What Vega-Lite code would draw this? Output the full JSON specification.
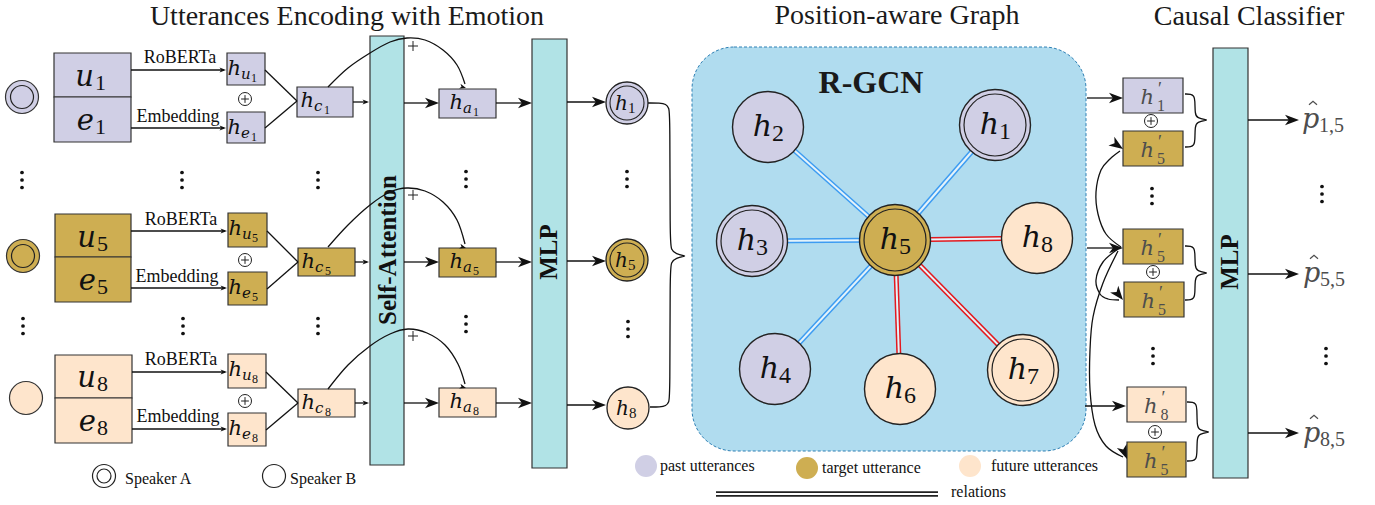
{
"$schema":"https://vega.github.io/schema/vega-lite/v6.json",
"width":1375,"height":505,"padding":0,"autosize":{"type":"none"},
"background":"#ffffff",
"config":{"view":{"stroke":null},"text":{"font":"Liberation Serif","color":"#111111"}},
"datasets":{
"rgcn":[{"x":692,"x2":1086,"y":47,"y2":451}],
"edges":[
{"x":895,"y":240,"x2":995,"y2":125,"c":"p"},
{"x":895,"y":240,"x2":768,"y2":127,"c":"p"},
{"x":895,"y":240,"x2":752,"y2":241,"c":"p"},
{"x":895,"y":240,"x2":775,"y2":369,"c":"p"},
{"x":895,"y":240,"x2":900,"y2":389,"c":"f"},
{"x":895,"y":240,"x2":1023,"y2":370,"c":"f"},
{"x":895,"y":240,"x2":1037,"y2":238,"c":"f"}],
"rects":[
{"x":54,"x2":131,"y":53,"y2":97,"g":"past"},
{"x":54,"x2":131,"y":97,"y2":142,"g":"past"},
{"x":55,"x2":131,"y":214,"y2":257,"g":"target"},
{"x":55,"x2":131,"y":257,"y2":302,"g":"target"},
{"x":55,"x2":132,"y":355,"y2":398,"g":"future"},
{"x":55,"x2":132,"y":398,"y2":443,"g":"future"},
{"x":227,"x2":265,"y":53,"y2":85,"g":"past"},
{"x":227,"x2":265,"y":112,"y2":143,"g":"past"},
{"x":228,"x2":267,"y":213,"y2":247,"g":"target"},
{"x":228,"x2":267,"y":272,"y2":305,"g":"target"},
{"x":228,"x2":266,"y":354,"y2":388,"g":"future"},
{"x":228,"x2":266,"y":413,"y2":446,"g":"future"},
{"x":297,"x2":353,"y":87,"y2":117,"g":"past"},
{"x":298,"x2":355,"y":248,"y2":276,"g":"target"},
{"x":298,"x2":355,"y":389,"y2":417,"g":"future"},
{"x":439,"x2":496,"y":89,"y2":118,"g":"past"},
{"x":439,"x2":496,"y":248,"y2":277,"g":"target"},
{"x":439,"x2":496,"y":388,"y2":417,"g":"future"},
{"x":370,"x2":404,"y":36,"y2":465,"g":"module"},
{"x":532,"x2":567,"y":39,"y2":468,"g":"module"},
{"x":1213,"x2":1248,"y":48,"y2":478,"g":"module"},
{"x":1123,"x2":1183,"y":78,"y2":113,"g":"past"},
{"x":1123,"x2":1183,"y":131,"y2":166,"g":"target"},
{"x":1123,"x2":1183,"y":229,"y2":264,"g":"target"},
{"x":1124,"x2":1184,"y":282,"y2":317,"g":"target"},
{"x":1127,"x2":1186,"y":387,"y2":422,"g":"future"},
{"x":1127,"x2":1186,"y":442,"y2":477,"g":"target"}],
"lines":[
{"x":131,"y":70,"x2":224,"y2":70},
{"x":131,"y":128,"x2":224,"y2":128},
{"x":265,"y":70,"x2":297,"y2":101},
{"x":265,"y":128,"x2":297,"y2":101},
{"x":353,"y":102,"x2":367,"y2":102},
{"x":404,"y":103,"x2":434,"y2":103},
{"x":496,"y":103,"x2":527,"y2":103},
{"x":567,"y":102,"x2":601,"y2":102},
{"x":131,"y":231,"x2":225,"y2":231},
{"x":131,"y":288,"x2":225,"y2":288},
{"x":267,"y":231,"x2":298,"y2":262},
{"x":267,"y":289,"x2":298,"y2":262},
{"x":355,"y":262,"x2":367,"y2":262},
{"x":404,"y":262,"x2":434,"y2":262},
{"x":496,"y":262,"x2":527,"y2":262},
{"x":567,"y":261,"x2":601,"y2":261},
{"x":132,"y":372,"x2":225,"y2":372},
{"x":132,"y":429,"x2":225,"y2":429},
{"x":266,"y":372,"x2":298,"y2":403},
{"x":266,"y":430,"x2":298,"y2":403},
{"x":355,"y":403,"x2":367,"y2":403},
{"x":404,"y":403,"x2":434,"y2":403},
{"x":496,"y":403,"x2":527,"y2":403},
{"x":567,"y":405,"x2":601,"y2":405},
{"x":1087,"y":98,"x2":1118,"y2":98},
{"x":1087,"y":248,"x2":1118,"y2":248},
{"x":1085,"y":406,"x2":1121,"y2":406},
{"x":1248,"y":120,"x2":1294,"y2":120},
{"x":1248,"y":274,"x2":1294,"y2":274},
{"x":1248,"y":433,"x2":1294,"y2":433}],
"curves":[
{"id":"c1","o":1,"x":328,"y":87},{"id":"c1","o":2,"x":348,"y":68},{"id":"c1","o":3,"x":370,"y":53},{"id":"c1","o":4,"x":390,"y":42},{"id":"c1","o":5,"x":407,"y":38},{"id":"c1","o":6,"x":425,"y":40},{"id":"c1","o":7,"x":443,"y":50},{"id":"c1","o":8,"x":457,"y":65},{"id":"c1","o":9,"x":465,"y":84},
{"id":"c2","o":1,"x":328,"y":247},{"id":"c2","o":2,"x":348,"y":225},{"id":"c2","o":3,"x":370,"y":205},{"id":"c2","o":4,"x":390,"y":192},{"id":"c2","o":5,"x":407,"y":188},{"id":"c2","o":6,"x":425,"y":191},{"id":"c2","o":7,"x":443,"y":202},{"id":"c2","o":8,"x":457,"y":220},{"id":"c2","o":9,"x":465,"y":244},
{"id":"c3","o":1,"x":328,"y":389},{"id":"c3","o":2,"x":348,"y":365},{"id":"c3","o":3,"x":370,"y":346},{"id":"c3","o":4,"x":390,"y":334},{"id":"c3","o":5,"x":408,"y":329},{"id":"c3","o":6,"x":427,"y":333},{"id":"c3","o":7,"x":445,"y":345},{"id":"c3","o":8,"x":458,"y":364},{"id":"c3","o":9,"x":465,"y":384},
{"id":"r1","o":1,"x":1121,"y":247},{"id":"r1","o":2,"x":1106,"y":234},{"id":"r1","o":3,"x":1098,"y":214},{"id":"r1","o":4,"x":1096,"y":192},{"id":"r1","o":5,"x":1101,"y":170},{"id":"r1","o":6,"x":1110,"y":159},{"id":"r1","o":7,"x":1120,"y":151},
{"id":"r2","o":1,"x":1118,"y":249},{"id":"r2","o":2,"x":1103,"y":262},{"id":"r2","o":3,"x":1096,"y":280},{"id":"r2","o":4,"x":1100,"y":294},{"id":"r2","o":5,"x":1108,"y":299},{"id":"r2","o":6,"x":1119,"y":300},
{"id":"r3","o":1,"x":1118,"y":251},{"id":"r3","o":2,"x":1103,"y":283},{"id":"r3","o":3,"x":1093,"y":317},{"id":"r3","o":4,"x":1090,"y":350},{"id":"r3","o":5,"x":1090,"y":390},{"id":"r3","o":6,"x":1095,"y":425},{"id":"r3","o":7,"x":1106,"y":446},{"id":"r3","o":8,"x":1123,"y":457}],
"braces":[
{"id":"b0","o":1,"x":648,"y":103},{"id":"b0","o":2,"x":660,"y":103},{"id":"b0","o":3,"x":666,"y":104},{"id":"b0","o":4,"x":669,"y":108},{"id":"b0","o":5,"x":670,"y":115},{"id":"b0","o":6,"x":670,"y":240},{"id":"b0","o":7,"x":671,"y":250},{"id":"b0","o":8,"x":676,"y":254},{"id":"b0","o":9,"x":685,"y":256},{"id":"b0","o":10,"x":685,"y":256},{"id":"b0","o":11,"x":676,"y":258},{"id":"b0","o":12,"x":671,"y":262},{"id":"b0","o":13,"x":670,"y":272},{"id":"b0","o":14,"x":670,"y":396},{"id":"b0","o":15,"x":669,"y":402},{"id":"b0","o":16,"x":666,"y":406},{"id":"b0","o":17,"x":660,"y":407},{"id":"b0","o":18,"x":650,"y":407},
{"id":"b1","o":1,"x":1185,"y":94},{"id":"b1","o":2,"x":1191,"y":94},{"id":"b1","o":3,"x":1194,"y":96},{"id":"b1","o":4,"x":1195,"y":100},{"id":"b1","o":5,"x":1195,"y":114},{"id":"b1","o":6,"x":1197,"y":118},{"id":"b1","o":7,"x":1207,"y":120},{"id":"b1","o":8,"x":1207,"y":120},{"id":"b1","o":9,"x":1197,"y":122},{"id":"b1","o":10,"x":1195,"y":126},{"id":"b1","o":11,"x":1195,"y":141},{"id":"b1","o":12,"x":1194,"y":145},{"id":"b1","o":13,"x":1191,"y":147},{"id":"b1","o":14,"x":1185,"y":147},
{"id":"b2","o":1,"x":1185,"y":246},{"id":"b2","o":2,"x":1191,"y":246},{"id":"b2","o":3,"x":1194,"y":248},{"id":"b2","o":4,"x":1195,"y":252},{"id":"b2","o":5,"x":1195,"y":267},{"id":"b2","o":6,"x":1197,"y":271},{"id":"b2","o":7,"x":1207,"y":273},{"id":"b2","o":8,"x":1207,"y":273},{"id":"b2","o":9,"x":1197,"y":275},{"id":"b2","o":10,"x":1195,"y":279},{"id":"b2","o":11,"x":1195,"y":294},{"id":"b2","o":12,"x":1194,"y":298},{"id":"b2","o":13,"x":1191,"y":300},{"id":"b2","o":14,"x":1185,"y":300},
{"id":"b3","o":1,"x":1187,"y":402},{"id":"b3","o":2,"x":1193,"y":402},{"id":"b3","o":3,"x":1196,"y":404},{"id":"b3","o":4,"x":1197,"y":408},{"id":"b3","o":5,"x":1197,"y":426},{"id":"b3","o":6,"x":1199,"y":430},{"id":"b3","o":7,"x":1209,"y":432},{"id":"b3","o":8,"x":1209,"y":432},{"id":"b3","o":9,"x":1199,"y":434},{"id":"b3","o":10,"x":1197,"y":438},{"id":"b3","o":11,"x":1197,"y":455},{"id":"b3","o":12,"x":1196,"y":459},{"id":"b3","o":13,"x":1193,"y":461},{"id":"b3","o":14,"x":1187,"y":461}],
"arrows":[
{"x":226,"y":70,"k":"small","d":"r"},{"x":226,"y":128,"k":"small","d":"r"},{"x":369,"y":102,"k":"small","d":"r"},
{"x":227,"y":231,"k":"small","d":"r"},{"x":227,"y":288,"k":"small","d":"r"},{"x":369,"y":262,"k":"small","d":"r"},
{"x":227,"y":372,"k":"small","d":"r"},{"x":227,"y":429,"k":"small","d":"r"},{"x":369,"y":403,"k":"small","d":"r"},
{"x":439,"y":103,"k":"big","d":"r"},{"x":532,"y":103,"k":"big","d":"r"},{"x":606,"y":102,"k":"big","d":"r"},
{"x":439,"y":262,"k":"big","d":"r"},{"x":532,"y":262,"k":"big","d":"r"},{"x":606,"y":261,"k":"big","d":"r"},
{"x":439,"y":403,"k":"big","d":"r"},{"x":532,"y":403,"k":"big","d":"r"},{"x":606,"y":405,"k":"big","d":"r"},
{"x":1123,"y":98,"k":"big","d":"r"},{"x":1123,"y":248,"k":"big","d":"r"},{"x":1126,"y":406,"k":"big","d":"r"},
{"x":1299,"y":120,"k":"big","d":"r"},{"x":1299,"y":274,"k":"big","d":"r"},{"x":1299,"y":433,"k":"big","d":"r"},
{"x":466,"y":88,"k":"small","d":"d"},{"x":466,"y":248,"k":"small","d":"d"},{"x":466,"y":388,"k":"small","d":"d"},
{"x":1123,"y":149,"k":"big","d":"ur"},{"x":1123,"y":300,"k":"big","d":"r2"},{"x":1127,"y":459,"k":"big","d":"dr"}],
"nodes":[
{"x":995,"y":125,"g":"past","s":"A","k":"1"},
{"x":768,"y":127,"g":"past","s":"B","k":"2"},
{"x":752,"y":241,"g":"past","s":"A","k":"3"},
{"x":775,"y":369,"g":"past","s":"B","k":"4"},
{"x":895,"y":240,"g":"target","s":"A","k":"5"},
{"x":900,"y":389,"g":"future","s":"B","k":"6"},
{"x":1023,"y":370,"g":"future","s":"A","k":"7"},
{"x":1037,"y":238,"g":"future","s":"B","k":"8"}],
"mid":[
{"x":627,"y":103,"g":"past","s":"A","k":"1"},
{"x":627,"y":260,"g":"target","s":"A","k":"5"},
{"x":628,"y":408,"g":"future","s":"B","k":"8"}],
"spk":[
{"x":22,"y":97,"g":"past","s":"A"},
{"x":23,"y":256,"g":"target","s":"A"},
{"x":26,"y":398,"g":"future","s":"B"}],
"legspk":[{"x":104,"y":476,"s":"A"},{"x":274,"y":476,"s":"B"}],
"legcol":[{"x":646,"y":466,"g":"past"},{"x":807,"y":468,"g":"target"},{"x":970,"y":466,"g":"future"}],
"rel":[{"x":716,"y":494,"x2":938,"y2":494}],
"oplus":[{"x":245,"y":99},{"x":245,"y":260},{"x":245,"y":401},{"x":1151,"y":121},{"x":1153,"y":272},{"x":1155,"y":432}],
"plus":[{"x":413,"y":46},{"x":413,"y":195},{"x":413,"y":336}],
"dots":[{"x":22,"y":180},{"x":182,"y":180},{"x":318,"y":180},{"x":23,"y":326},{"x":183,"y":326},{"x":318,"y":326},{"x":466,"y":179},{"x":466,"y":324},{"x":627,"y":179},{"x":628,"y":329},{"x":1152,"y":196},{"x":1153,"y":356},{"x":1322,"y":194},{"x":1326,"y":356}],
"titles":[{"x":347,"y":25,"t":"Utterances Encoding with Emotion"},{"x":897,"y":24,"t":"Position-aware Graph"},{"x":1249,"y":25,"t":"Causal Classifier"}],
"labels":[{"x":180,"y":63,"t":"RoBERTa"},{"x":181,"y":225,"t":"RoBERTa"},{"x":181,"y":365,"t":"RoBERTa"},{"x":178,"y":122,"t":"Embedding"},{"x":177,"y":282,"t":"Embedding"},{"x":178,"y":422,"t":"Embedding"}],
"legtext":[{"x":125,"y":484,"t":"Speaker A"},{"x":290,"y":484,"t":"Speaker B"},{"x":660,"y":471,"t":"past utterances"},{"x":822,"y":473,"t":"target utterance"},{"x":991,"y":471,"t":"future utterances"},{"x":951,"y":497,"t":"relations"}],
"rgcntext":[{"x":871,"y":93,"t":"R-GCN"}],
"vert":[{"x":388,"y":250,"t":"Self-Attention"},{"x":549,"y":252,"t":"MLP"},{"x":1230,"y":262,"t":"MLP"}],
"uelab":[{"x":94,"y":86,"m":"u","s":"1"},{"x":94,"y":130,"m":"e","s":"1"},{"x":96,"y":247,"m":"u","s":"5"},{"x":96,"y":290,"m":"e","s":"5"},{"x":96,"y":387,"m":"u","s":"8"},{"x":96,"y":431,"m":"e","s":"8"}],
"boxlab":[{"x":241,"y":75,"a":"u","b":"1"},{"x":241,"y":134,"a":"e","b":"1"},{"x":242,"y":235,"a":"u","b":"5"},{"x":242,"y":294,"a":"e","b":"5"},{"x":242,"y":376,"a":"u","b":"8"},{"x":242,"y":435,"a":"e","b":"8"},{"x":314,"y":107,"a":"c","b":"1"},{"x":315,"y":268,"a":"c","b":"5"},{"x":315,"y":409,"a":"c","b":"8"},{"x":463,"y":109,"a":"a","b":"1"},{"x":463,"y":268,"a":"a","b":"5"},{"x":463,"y":408,"a":"a","b":"8"}],
"hplab":[{"x":1154,"y":95.5,"s":"1"},{"x":1154,"y":148.5,"s":"5"},{"x":1154,"y":246.5,"s":"5"},{"x":1155,"y":299.5,"s":"5"},{"x":1157.5,"y":404.5,"s":"8"},{"x":1157.5,"y":459.5,"s":"5"}],
"plab":[{"x":1302,"y":128,"s":"1,5"},{"x":1303,"y":282,"s":"5,5"},{"x":1303,"y":442,"s":"8,5"}]
},
"encoding":{
"x":{"field":"x","type":"quantitative","scale":{"domain":[0,1375],"nice":false,"zero":false},"axis":null},
"y":{"field":"y","type":"quantitative","scale":{"domain":[0,505],"reverse":true,"nice":false,"zero":false},"axis":null}
},
"layer":[
{"data":{"name":"rgcn"},"mark":{"type":"rect","cornerRadius":42,"fill":"#b0dcef","stroke":"#2f80b4","strokeWidth":1,"strokeDash":[3,2]},"encoding":{"x2":{"field":"x2"},"y2":{"field":"y2"}}},
{"data":{"name":"edges"},"mark":{"type":"rule","strokeWidth":5},"encoding":{"x2":{"field":"x2"},"y2":{"field":"y2"},"color":{"field":"c","type":"nominal","scale":{"domain":["p","f"],"range":["#3d9cf2","#e3191e"]},"legend":null}}},
{"data":{"name":"edges"},"mark":{"type":"rule","strokeWidth":2,"color":"#e4f3fb"},"encoding":{"x2":{"field":"x2"},"y2":{"field":"y2"}}},
{"data":{"name":"rects"},"mark":{"type":"rect","stroke":"#333333","strokeWidth":1.2},"encoding":{"x2":{"field":"x2"},"y2":{"field":"y2"},"fill":{"field":"g","type":"nominal","scale":{"domain":["past","target","future","module"],"range":["#d0cfe5","#ceae52","#fee5cc","#b1e3e6"]},"legend":null}}},
{"data":{"name":"lines"},"mark":{"type":"rule","color":"#111111","strokeWidth":1.3},"encoding":{"x2":{"field":"x2"},"y2":{"field":"y2"}}},
{"data":{"name":"curves"},"mark":{"type":"line","interpolate":"cardinal","color":"#111111","strokeWidth":1.3},"encoding":{"detail":{"field":"id"},"order":{"field":"o"}}},
{"data":{"name":"braces"},"mark":{"type":"line","interpolate":"basis","color":"#111111","strokeWidth":1.3},"encoding":{"detail":{"field":"id"},"order":{"field":"o"}}},
{"data":{"name":"arrows"},"mark":{"type":"point","shape":"M0,0L-2,-0.75L-1.45,0L-2,0.75Z","filled":true,"fill":"#111111","strokeWidth":0,"opacity":1},"encoding":{"size":{"field":"k","type":"ordinal","scale":{"domain":["big","small"],"range":[196,42]},"legend":null},"angle":{"field":"d","type":"ordinal","scale":{"domain":["r","d","ur","r2","dr"],"range":[0,68,320,8,30]},"legend":null}}},
{"data":{"name":"nodes"},"mark":{"type":"point","shape":"circle","filled":true,"size":5041,"stroke":"#222222","strokeWidth":1.4,"opacity":1},"encoding":{"fill":{"field":"g","type":"nominal","scale":{"domain":["past","target","future","module"],"range":["#d0cfe5","#ceae52","#fee5cc","#b1e3e6"]},"legend":null}}},
{"data":{"name":"nodes"},"transform":[{"filter":{"field":"s","equal":"A"}}],"mark":{"type":"point","shape":"circle","filled":false,"size":3844,"color":"#222222","strokeWidth":1.2,"opacity":1}},
{"data":{"name":"mid"},"mark":{"type":"point","shape":"circle","filled":true,"size":1764,"stroke":"#222222","strokeWidth":1.3,"opacity":1},"encoding":{"fill":{"field":"g","type":"nominal","scale":{"domain":["past","target","future","module"],"range":["#d0cfe5","#ceae52","#fee5cc","#b1e3e6"]},"legend":null}}},
{"data":{"name":"mid"},"transform":[{"filter":{"field":"s","equal":"A"}}],"mark":{"type":"point","shape":"circle","filled":false,"size":1156,"color":"#222222","strokeWidth":1.1,"opacity":1}},
{"data":{"name":"spk"},"mark":{"type":"point","shape":"circle","filled":true,"size":1089,"stroke":"#333333","strokeWidth":1.2,"opacity":1},"encoding":{"fill":{"field":"g","type":"nominal","scale":{"domain":["past","target","future","module"],"range":["#d0cfe5","#ceae52","#fee5cc","#b1e3e6"]},"legend":null}}},
{"data":{"name":"spk"},"transform":[{"filter":{"field":"s","equal":"A"}}],"mark":{"type":"point","shape":"circle","filled":false,"size":529,"color":"#222222","strokeWidth":1.2,"opacity":1}},
{"data":{"name":"legspk"},"mark":{"type":"point","shape":"circle","filled":true,"fill":"#ffffff","size":529,"stroke":"#222222","strokeWidth":1.2,"opacity":1}},
{"data":{"name":"legspk"},"transform":[{"filter":{"field":"s","equal":"A"}}],"mark":{"type":"point","shape":"circle","filled":false,"size":196,"color":"#222222","strokeWidth":1.2,"opacity":1}},
{"data":{"name":"legcol"},"mark":{"type":"point","shape":"circle","filled":true,"size":484,"strokeWidth":0,"opacity":1},"encoding":{"fill":{"field":"g","type":"nominal","scale":{"domain":["past","target","future","module"],"range":["#d0cfe5","#ceae52","#fee5cc","#b1e3e6"]},"legend":null}}},
{"data":{"name":"rel"},"mark":{"type":"rule","color":"#222222","strokeWidth":5.4},"encoding":{"x2":{"field":"x2"},"y2":{"field":"y2"}}},
{"data":{"name":"rel"},"mark":{"type":"rule","color":"#ffffff","strokeWidth":2.2},"encoding":{"x2":{"field":"x2"},"y2":{"field":"y2"}}},
{"data":{"name":"oplus"},"mark":{"type":"point","shape":"circle","filled":false,"size":169,"color":"#222222","strokeWidth":1,"opacity":1}},
{"data":{"name":"oplus"},"mark":{"type":"point","shape":"M-0.6,0H0.6M0,-0.6V0.6","filled":false,"size":169,"color":"#222222","strokeWidth":1,"opacity":1}},
{"data":{"name":"plus"},"mark":{"type":"point","shape":"M-1,0H1M0,-1V1","filled":false,"size":100,"color":"#222222","strokeWidth":1,"opacity":1}},
{"data":{"name":"dots"},"mark":{"type":"point","shape":"circle","filled":true,"size":14,"fill":"#111111","strokeWidth":0,"opacity":1,"yOffset":-7.5}},
{"data":{"name":"dots"},"mark":{"type":"point","shape":"circle","filled":true,"size":14,"fill":"#111111","strokeWidth":0,"opacity":1}},
{"data":{"name":"dots"},"mark":{"type":"point","shape":"circle","filled":true,"size":14,"fill":"#111111","strokeWidth":0,"opacity":1,"yOffset":7.5}},
{"data":{"name":"titles"},"mark":{"type":"text","fontSize":28,"align":"center","baseline":"alphabetic","color":"#1a1a1a"},"encoding":{"text":{"field":"t"}}},
{"data":{"name":"labels"},"mark":{"type":"text","fontSize":18,"align":"center","baseline":"alphabetic"},"encoding":{"text":{"field":"t"}}},
{"data":{"name":"legtext"},"mark":{"type":"text","fontSize":16,"align":"left","baseline":"alphabetic"},"encoding":{"text":{"field":"t"}}},
{"data":{"name":"rgcntext"},"mark":{"type":"text","fontSize":32,"fontWeight":"bold","align":"center","baseline":"alphabetic","color":"#1a1a1a"},"encoding":{"text":{"field":"t"}}},
{"data":{"name":"vert"},"mark":{"type":"text","fontSize":25,"fontWeight":"bold","align":"center","baseline":"middle","angle":270},"encoding":{"text":{"field":"t"}}},
{"data":{"name":"uelab"},"mark":{"type":"text","font":"DejaVu Serif","fontSize":29,"fontStyle":"italic","align":"right","baseline":"alphabetic"},"encoding":{"text":{"field":"m"}}},
{"data":{"name":"uelab"},"mark":{"type":"text","fontSize":22,"align":"left","baseline":"alphabetic","dx":1,"dy":4},"encoding":{"text":{"field":"s"}}},
{"data":{"name":"boxlab"},"mark":{"type":"text","text":"h","font":"DejaVu Serif","fontSize":21,"fontStyle":"italic","align":"right","baseline":"alphabetic"}},
{"data":{"name":"boxlab"},"mark":{"type":"text","font":"DejaVu Serif","fontSize":15,"fontStyle":"italic","align":"left","baseline":"alphabetic","dy":4},"encoding":{"text":{"field":"a"}}},
{"data":{"name":"boxlab"},"mark":{"type":"text","fontSize":12,"align":"left","baseline":"alphabetic","dx":10,"dy":7},"encoding":{"text":{"field":"b"}}},
{"data":{"name":"mid"},"mark":{"type":"text","text":"h","font":"DejaVu Serif","fontSize":20,"fontStyle":"italic","align":"right","baseline":"alphabetic","dx":1,"dy":7}},
{"data":{"name":"mid"},"mark":{"type":"text","fontSize":15,"align":"left","baseline":"alphabetic","dx":1,"dy":10},"encoding":{"text":{"field":"k"}}},
{"data":{"name":"nodes"},"mark":{"type":"text","text":"h","font":"DejaVu Serif","fontSize":30,"fontStyle":"italic","align":"right","baseline":"alphabetic","dx":4,"dy":9}},
{"data":{"name":"nodes"},"mark":{"type":"text","fontSize":24,"align":"left","baseline":"alphabetic","dx":4,"dy":14},"encoding":{"text":{"field":"k"}}},
{"data":{"name":"hplab"},"mark":{"type":"text","text":"h","font":"DejaVu Serif","fontSize":21,"fontStyle":"italic","align":"right","baseline":"alphabetic","dy":8.5,"color":"#4d4d4d"}},
{"data":{"name":"hplab"},"mark":{"type":"text","text":"′","fontSize":18,"align":"left","baseline":"alphabetic","dx":4,"dy":-1,"color":"#4d4d4d"}},
{"data":{"name":"hplab"},"mark":{"type":"text","fontSize":16,"align":"left","baseline":"alphabetic","dx":3,"dy":15.5,"color":"#4d4d4d"},"encoding":{"text":{"field":"s"}}},
{"data":{"name":"plab"},"mark":{"type":"text","text":"p","font":"DejaVu Serif","fontSize":27,"fontStyle":"italic","align":"left","baseline":"alphabetic","color":"#4d4d4d"}},
{"data":{"name":"plab"},"mark":{"type":"text","fontSize":20,"align":"left","baseline":"alphabetic","dx":17,"dy":4,"color":"#4d4d4d"},"encoding":{"text":{"field":"s"}}},
{"data":{"name":"plab"},"mark":{"type":"point","shape":"M-1,0.45L0,-0.45L1,0.45","filled":false,"size":64,"color":"#4d4d4d","strokeWidth":1.2,"opacity":1,"xOffset":11,"yOffset":-25}}
]
}
